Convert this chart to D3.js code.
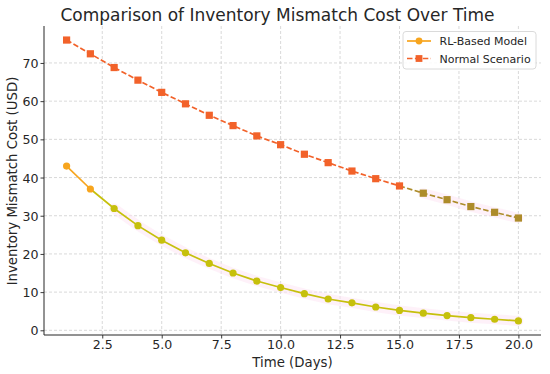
<!DOCTYPE html>
<html>
<head>
<meta charset="utf-8">
<script src="https://cdn.jsdelivr.net/npm/d3@7"></script>
<style>
  html, body { margin: 0; padding: 0; background: #fff; }
  svg { display: block; font-family: "DejaVu Sans", sans-serif; }
</style>
</head>
<body>
<svg id="chart" width="550" height="374"></svg>
<script>
// ---- data ----
const days = [1,2,3,4,5,6,7,8,9,10,11,12,13,14,15,16,17,18,19,20];
const rlCost = [43.0,37.0,31.9,27.4,23.6,20.3,17.5,15.0,12.9,11.2,9.6,8.2,7.2,6.1,5.2,4.5,3.85,3.3,2.9,2.45];
const normalCost = [76.0,72.4,68.8,65.5,62.3,59.3,56.3,53.6,50.9,48.6,46.1,43.9,41.7,39.7,37.8,35.9,34.2,32.4,30.9,29.4];
const seriesNames = ["RL-Based Model", "Normal Scenario"];
const xTicks = [2.5,5.0,7.5,10.0,12.5,15.0,17.5,20.0];
const yTicks = [0,10,20,30,40,50,60,70];
const rlShiftFromDay = 3;      // day from which the RL series appears recoloured
const normalShiftFromDay = 16; // day from which the normal series appears recoloured

(function () {
// ---- layout ----
const svg = d3.select("#chart");
const pLeft = 44, pRight = 541, pTop = 26, pBottom = 335;

const xMin = d3.min(days), xMax = d3.max(days);
const xPad = (xMax - xMin) * 0.05;
const x = d3.scaleLinear().domain([xMin - xPad, xMax + xPad]).range([pLeft, pRight]);
const allY = rlCost.concat(normalCost);
const yMin = d3.min(allY), yMax = d3.max(allY);
const yPad = (yMax - yMin) * 0.05;
const y = d3.scaleLinear().domain([yMin - yPad, yMax + yPad]).range([pBottom, pTop]);

const C = {
  rl: "#F7A51E", rlTail: "#C6C00C",
  normal: "#F2622A", normalTail: "#AD8C2A",
  grid: "#cfcfcf", text: "#262626", halo: "#fde3f3"
};

// grid
const grid = svg.append("g");
grid.selectAll("line.gx").data(xTicks).enter().append("line")
  .attr("x1", d => x(d)).attr("x2", d => x(d)).attr("y1", pTop).attr("y2", pBottom)
  .attr("stroke", C.grid).attr("stroke-width", 0.8).attr("stroke-dasharray", "3,2");
grid.selectAll("line.gy").data(yTicks).enter().append("line")
  .attr("x1", pLeft).attr("x2", pRight).attr("y1", d => y(d)).attr("y2", d => y(d))
  .attr("stroke", C.grid).attr("stroke-width", 0.8).attr("stroke-dasharray", "3,2");

// axes
const xAxis = d3.axisBottom(x).tickValues(xTicks).tickFormat(d3.format(".1f")).tickSize(3.5).tickPadding(3);
const yAxis = d3.axisLeft(y).tickValues(yTicks).tickFormat(d3.format("d")).tickSize(3.5).tickPadding(2);
const gx = svg.append("g").attr("transform", `translate(0,${pBottom})`).call(xAxis);
const gy = svg.append("g").attr("transform", `translate(${pLeft},0)`).call(yAxis);
[gx, gy].forEach(g => {
  g.select(".domain").remove();
  g.selectAll(".tick line").attr("stroke", C.text).attr("stroke-width", 0.9);
  g.selectAll(".tick text").attr("fill", C.text).attr("font-size", "12.6px")
    .attr("font-family", "DejaVu Sans, sans-serif");
});
gx.selectAll(".tick text").attr("dy", null).attr("y", 14);
gy.selectAll(".tick text").attr("dy", "0.36em");
svg.append("line").attr("x1", pLeft).attr("x2", pLeft).attr("y1", pTop).attr("y2", pBottom)
  .attr("stroke", C.text).attr("stroke-width", 1);
svg.append("line").attr("x1", pLeft).attr("x2", pRight).attr("y1", pBottom).attr("y2", pBottom)
  .attr("stroke", C.text).attr("stroke-width", 1);

// series
const rlData = days.map((d, i) => ({ d, v: rlCost[i] }));
const nData = days.map((d, i) => ({ d, v: normalCost[i] }));
const line = d3.line().x(p => x(p.d)).y(p => y(p.v));

function drawSeries(data, shiftDay, colA, colB, dashed, marker) {
  const head = data.filter(p => p.d <= shiftDay - 1);
  const tail = data.filter(p => p.d >= shiftDay - 1);
  const g = svg.append("g");
  g.append("path").datum(tail.slice(1)).attr("d", line).attr("fill", "none")
    .attr("stroke", C.halo).attr("stroke-width", 10).attr("stroke-linecap", "round")
    .attr("opacity", 0.5);
  g.append("path").datum(head).attr("d", line).attr("fill", "none")
    .attr("stroke", colA).attr("stroke-width", 1.7)
    .attr("stroke-dasharray", dashed ? "5.5,2.4" : null);
  g.append("path").datum(tail).attr("d", line).attr("fill", "none")
    .attr("stroke", colB).attr("stroke-width", 1.7)
    .attr("stroke-dasharray", dashed ? "5.5,2.4" : null);
  data.forEach(p => {
    const col = p.d < shiftDay ? colA : colB;
    if (marker === "circle") {
      g.append("circle").attr("cx", x(p.d)).attr("cy", y(p.v)).attr("r", 3.6).attr("fill", col);
    } else {
      g.append("rect").attr("x", x(p.d) - 3.6).attr("y", y(p.v) - 3.6)
        .attr("width", 7.2).attr("height", 7.2).attr("fill", col);
    }
  });
}
drawSeries(rlData, rlShiftFromDay, C.rl, C.rlTail, false, "circle");
drawSeries(nData, normalShiftFromDay, C.normal, C.normalTail, true, "square");

// title and labels
svg.append("text").attr("x", 277.5).attr("y", 21).attr("text-anchor", "middle")
  .attr("font-size", "17px").attr("fill", C.text)
  .text("Comparison of Inventory Mismatch Cost Over Time");
svg.append("text").attr("x", (pLeft + pRight) / 2).attr("y", 367).attr("text-anchor", "middle")
  .attr("font-size", "13.3px").attr("fill", C.text).text("Time (Days)");
svg.append("text").attr("transform", `translate(17,181) rotate(-90)`)
  .attr("text-anchor", "middle").attr("font-size", "13.3px").attr("fill", C.text)
  .text("Inventory Mismatch Cost (USD)");

// legend
const lg = svg.append("g");
lg.append("rect").attr("x", 403).attr("y", 31.5).attr("width", 133).attr("height", 37.5)
  .attr("rx", 3).attr("fill", "#fff").attr("fill-opacity", 0.85)
  .attr("stroke", "#d6d6d6").attr("stroke-width", 0.9);
const legendItems = [
  { name: seriesNames[0], col: C.rl, dashed: false, marker: "circle" },
  { name: seriesNames[1], col: C.normal, dashed: true, marker: "square" }
];
legendItems.forEach((it, i) => {
  const cy = 41 + i * 17.5;
  lg.append("line").attr("x1", 407).attr("x2", 431).attr("y1", cy).attr("y2", cy)
    .attr("stroke", it.col).attr("stroke-width", 1.7)
    .attr("stroke-dasharray", it.dashed ? "5.5,2.4" : null);
  if (it.marker === "circle") {
    lg.append("circle").attr("cx", 419).attr("cy", cy).attr("r", 3.4).attr("fill", it.col);
  } else {
    lg.append("rect").attr("x", 415.6).attr("y", cy - 3.4).attr("width", 6.8).attr("height", 6.8).attr("fill", it.col);
  }
  lg.append("text").attr("x", 439.5).attr("y", cy + 4).attr("font-size", "11px")
    .attr("fill", C.text).text(it.name);
});
})();
</script>
</body>
</html>
